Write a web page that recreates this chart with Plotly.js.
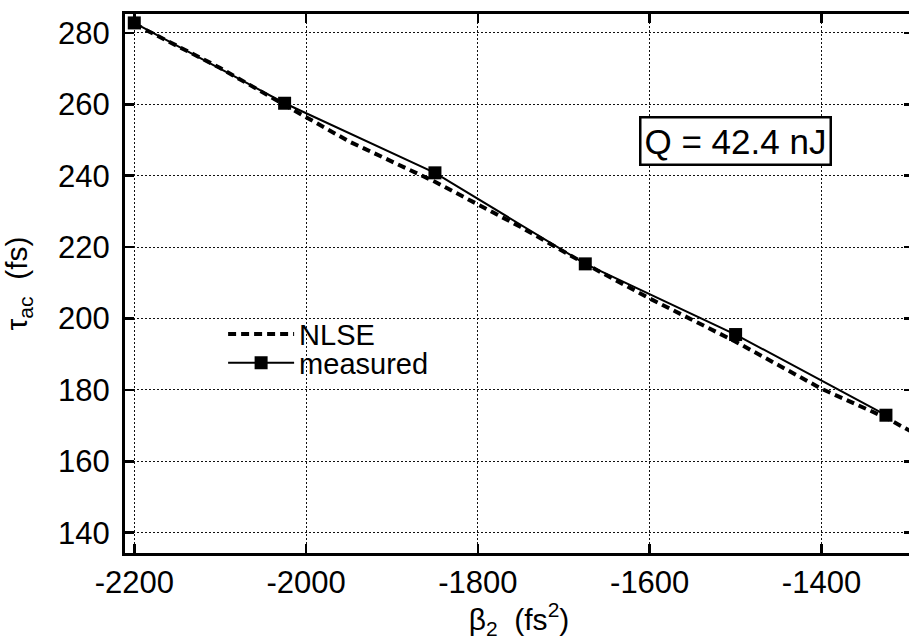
<!DOCTYPE html>
<html>
<head>
<meta charset="utf-8">
<script src="https://cdn.plot.ly/plotly-3.0.1.min.js"></script>
<style>
  html, body { margin: 0; padding: 0; background: #fff; overflow: hidden; }
  #wrap { width: 909px; height: 640px; overflow: hidden; }
  #chart { width: 913px; height: 640px; }
</style>
</head>
<body>
<div id="wrap"><div id="chart"></div></div>
<script>
// GVD (beta_2) values of the measurement points, fs^2
const betaMeasured = [-2200, -2025, -1850, -1675, -1500, -1325];
// measured autocorrelation width, fs
const tauMeasured = [282.8, 260.3, 240.8, 215.3, 195.5, 172.9];

// NLSE simulation curve
const betaNlse = [-2200, -2100, -2025, -1950, -1850, -1750, -1675, -1600, -1500, -1400, -1325, -1290];
const tauNlse = [282.5, 270.2, 259.8, 249.6, 238.3, 225.6, 215.3, 205.6, 193.5, 180.3, 172.2, 167.6];

const xTicks = [-2200, -2000, -1800, -1600, -1400];
const yTicks = [140, 160, 180, 200, 220, 240, 260, 280];

const FONT = 'Liberation Sans, Arial, Helvetica, sans-serif';

const traces = [
  {
    x: betaNlse, y: tauNlse, name: 'NLSE', mode: 'lines', legend: 'legend',
    line: { color: '#000', width: 4, dash: '8px,5px' }
  },
  {
    x: betaMeasured, y: tauMeasured, name: 'measured', mode: 'lines+markers', legend: 'legend2',
    line: { color: '#000', width: 2 },
    marker: { symbol: 'square', size: 13, color: '#000' }
  }
];

const axisCommon = {
  showline: true, linecolor: '#000', linewidth: 3,
  mirror: 'ticks', ticks: 'inside', ticklen: 9, tickwidth: 2.5, tickcolor: '#000',
  showgrid: true, gridcolor: '#111', gridwidth: 1, griddash: '2px,2px',
  zeroline: false,
  tickfont: { family: FONT, size: 31, color: '#000' }
};

const legendCommon = {
  xanchor: 'left', yanchor: 'middle',
  bgcolor: 'rgba(0,0,0,0)', borderwidth: 0,
  font: { family: FONT, size: 29, color: '#000' },
  itemwidth: 66
};

const layout = {
  width: 913, height: 640,
  margin: { l: 125, r: 0, t: 14, b: 87 },
  paper_bgcolor: '#fff', plot_bgcolor: '#fff',
  showlegend: true,
  legend: Object.assign({ x: 0.1245, y: 0.406 }, legendCommon),
  legend2: Object.assign({ x: 0.1245, y: 0.3525 }, legendCommon),
  xaxis: Object.assign({}, axisCommon, {
    range: [-2210.8, -1293.5],
    tickmode: 'array', tickvals: xTicks, ticktext: xTicks.map(String),
    ticklabelstandoff: 0,
    title: { text: 'β<sub>2</sub>  (fs<sup>2</sup>)', font: { family: FONT, size: 30, color: '#000' }, standoff: 10 }
  }),
  yaxis: Object.assign({}, axisCommon, {
    range: [134.3, 285.3],
    tickmode: 'array', tickvals: yTicks, ticktext: yTicks.map(String),
    ticklabelstandoff: 6,
    title: { text: 'τ<sub>ac</sub>  (fs)', font: { family: FONT, size: 30, color: '#000' }, standoff: 22 }
  }),
  annotations: [{
    xref: 'paper', yref: 'paper', x: 0.775, y: 0.764,
    xanchor: 'center', yanchor: 'middle',
    text: 'Q = 42.4 nJ', showarrow: false,
    font: { family: FONT, size: 35, color: '#000' },
    bordercolor: '#000', borderwidth: 2.5, borderpad: 3, bgcolor: '#fff'
  }]
};

Plotly.newPlot('chart', traces, layout, { staticPlot: true, displayModeBar: false });
</script>
</body>
</html>
